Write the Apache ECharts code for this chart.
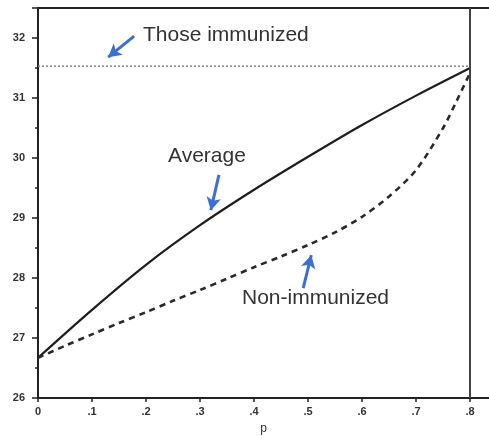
<!DOCTYPE html>
<html>
<head>
<meta charset="utf-8">
<script src="https://cdn.jsdelivr.net/npm/echarts@6/dist/echarts.min.js"></script>
<style>
  html, body { margin: 0; padding: 0; background: #fff; }
  #main { width: 489px; height: 436px; }
</style>
</head>
<body>
<div id="main"></div>
<script>
// data
var pValues = [0, 0.1, 0.2, 0.3, 0.4, 0.5, 0.6, 0.7, 0.8];
var averageValues = [26.67, 27.47, 28.22, 28.88, 29.47, 30.02, 30.55, 31.04, 31.5];
var nonImmP = [0, 0.05, 0.1, 0.15, 0.2, 0.25, 0.3, 0.35, 0.4, 0.45, 0.5, 0.55, 0.6, 0.65, 0.7, 0.75, 0.775, 0.8];
var nonImmValues = [26.67, 26.87, 27.06, 27.25, 27.43, 27.62, 27.8, 27.99, 28.18, 28.36, 28.55, 28.76, 29.02, 29.36, 29.8, 30.5, 30.95, 31.42];
var immunizedP = [0, 0.8];
var immunizedValue = 31.53;
var xTickLabels = ['0', '.1', '.2', '.3', '.4', '.5', '.6', '.7', '.8'];
var yTickLabels = ['26', '27', '28', '29', '30', '31', '32'];

function pairs(xs, ys) {
    return xs.map(function (x, i) { return [x, ys[i]]; });
}

var myChart = echarts.init(document.getElementById('main'));

var arrowColor = '#3b6fd6';
var textColor = '#333';
var labelFont = { color: '#333', fontSize: 11, fontWeight: 'bold', fontFamily: 'Liberation Sans' };

var option = {
    backgroundColor: '#fff',
    animation: false,
    grid: { left: 38, right: 0, top: 8, bottom: 38, outerBoundsMode: 'none' },
    xAxis: [{
        type: 'value',
        min: 0,
        max: 0.835,
        interval: 0.1,
        name: 'p',
        nameLocation: 'middle',
        nameGap: 25,
        nameTextStyle: { color: '#333', fontSize: 12, fontFamily: 'Liberation Sans' },
        axisLine: { show: true, lineStyle: { color: '#222', width: 2 } },
        axisTick: { show: true, length: 4, inside: false, lineStyle: { color: '#222', width: 1.5 } },
        axisLabel: Object.assign({
            margin: 8,
            showMaxLabel: false,
            formatter: function (v) {
                var i = Math.round(v * 10);
                return Math.abs(v * 10 - i) < 1e-6 && xTickLabels[i] !== undefined ? xTickLabels[i] : '';
            }
        }, labelFont),
        splitLine: { show: false }
    }, {
        type: 'value',
        position: 'top',
        min: 0,
        max: 0.835,
        axisLine: { show: true, lineStyle: { color: '#222', width: 2 } },
        axisTick: { show: false },
        axisLabel: { show: false },
        splitLine: { show: false }
    }],
    yAxis: {
        type: 'value',
        min: 26,
        max: 32.5,
        interval: 1,
        axisLine: { show: true, lineStyle: { color: '#222', width: 2 } },
        axisTick: { show: true, length: 6, lineStyle: { color: '#222', width: 1.5 } },
        minorTick: { show: true, splitNumber: 2, length: 3, lineStyle: { color: '#222', width: 1.5 } },
        axisLabel: Object.assign({
            margin: 13,
            showMaxLabel: false,
            formatter: function (v) {
                var i = Math.round(v - 26);
                return Math.abs(v - 26 - i) < 1e-6 && yTickLabels[i] !== undefined ? yTickLabels[i] : '';
            }
        }, labelFont),
        splitLine: { show: false }
    },
    series: [{
        name: 'Those immunized',
        type: 'line',
        data: pairs(immunizedP, immunizedP.map(function () { return immunizedValue; })),
        symbol: 'none',
        lineStyle: { color: '#888', width: 1.5, type: [2, 2] },
        markLine: {
            silent: true,
            symbol: ['none', 'none'],
            label: { show: false },
            lineStyle: { color: '#444', width: 2, type: 'solid' },
            data: [{ xAxis: 0.8 }]
        }
    }, {
        name: 'Average',
        type: 'line',
        data: pairs(pValues, averageValues),
        smooth: 0.3,
        symbol: 'none',
        lineStyle: { color: '#1e1e1e', width: 2.2 },
        markLine: {
            silent: true,
            symbol: ['none', 'arrow'],
            symbolSize: [11, 13],
            label: { show: false },
            lineStyle: { color: arrowColor, width: 3, type: 'solid' },
            data: [
                [{ coord: [0.178, 32.03] }, { coord: [0.13, 31.68] }],
                [{ coord: [0.335, 29.72] }, { coord: [0.32, 29.13] }],
                [{ coord: [0.491, 27.83] }, { coord: [0.506, 28.38] }]
            ]
        }
    }, {
        name: 'Non-immunized',
        type: 'line',
        data: pairs(nonImmP, nonImmValues),
        smooth: 0.3,
        symbol: 'none',
        lineStyle: { color: '#2a2a2a', width: 2.6, type: [6, 5] }
    }],
    graphic: [
        { type: 'text', left: 143, top: 25, style: { text: 'Those immunized', fill: textColor, font: '21px "Liberation Sans"' } },
        { type: 'text', left: 168, top: 146, style: { text: 'Average', fill: textColor, font: '21px "Liberation Sans"' } },
        { type: 'text', left: 242, top: 288, style: { text: 'Non-immunized', fill: textColor, font: '21px "Liberation Sans"' } }
    ]
};

myChart.setOption(option);
</script>
</body>
</html>
